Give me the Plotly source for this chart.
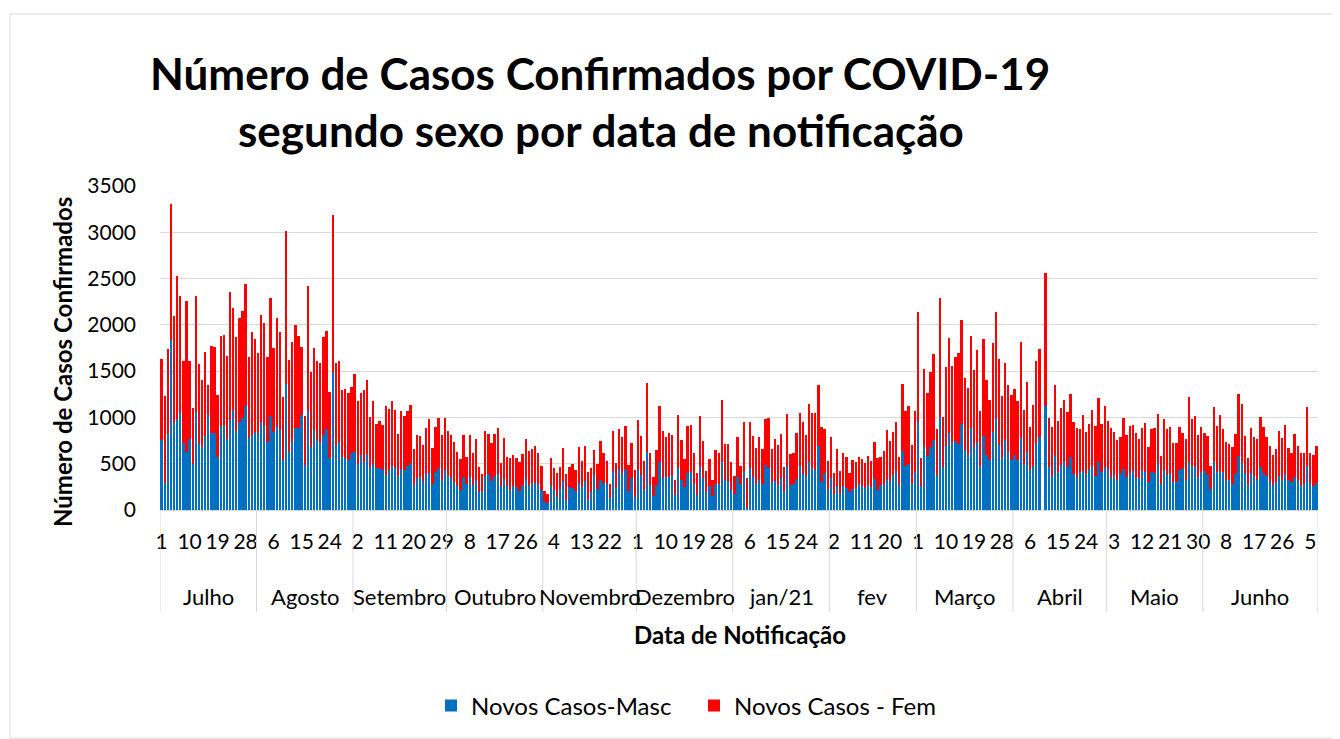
import plotly.graph_objects as go
import pandas as pd

# ---- Data (daily new cases by sex) ----
masc_jul20 = [761,292,822,1835,941,981,1053,721,631,771,497,1063,714,681,800,1031,836,836,577,908,908,771,973,1078,851,952,995,1121,779,815,844]
fem_jul20 = [872,937,919,1474,1150,1542,1254,894,1626,844,610,1244,861,721,912,321,941,927,667,967,985,894,1377,1107,1020,1124,1150,1316,879,1110,1002]
masc_ago = [829,955,912,735,1020,844,908,865,541,1363,624,743,887,887,1027,490,1074,678,869,753,725,808,872,566,1492,696,732,573,562,541,613]
fem_ago = [862,1150,1110,923,1273,908,1165,1060,685,1647,998,1074,1114,995,729,530,1349,818,876,862,865,1063,1057,707,1698,890,879,725,743,728,721]
masc_set = [624,494,595,516,602,461,508,454,454,429,382,436,479,454,368,447,429,476,508,274,350,361,310,389,400,281,411,454,321,429]
fem_set = [840,688,674,778,804,548,674,476,512,490,743,653,703,624,454,627,591,598,628,382,465,439,393,498,588,393,490,541,494,566]
masc_out = [368,350,303,263,216,361,285,361,274,324,198,198,371,386,314,368,386,256,339,260,216,260,245,202,267,335,263,296,296,278,216]
fem_out = [483,461,429,361,332,454,292,454,346,447,271,191,487,436,414,458,497,252,443,310,347,335,318,317,335,436,371,367,396,338,260]
masc_nov = [87,72,270,216,137,231,317,108,245,238,209,292,252,310,112,198,382,224,321,288,281,126,418,238,443,397,440,205,350,141]
fem_nov = [122,101,296,235,260,238,354,281,224,263,220,389,274,382,303,260,267,277,429,328,253,159,440,274,433,389,472,285,375,295]
masc_dez = [433,379,216,627,270,155,274,516,342,353,361,368,159,458,328,245,400,411,278,166,469,342,195,256,151,281,281,516,321,299,216]
fem_dez = [544,418,314,746,350,198,375,609,509,433,472,447,169,573,429,310,508,508,342,234,544,404,227,292,173,364,332,674,396,418,307]
masc_jan = [173,353,281,411,22,454,353,281,324,281,483,454,306,317,274,350,198,472,274,281,332,472,389,364,516,454,436,689,299,404,227]
fem_jan = [198,440,198,541,320,501,451,390,469,375,498,541,354,451,429,472,267,570,335,335,497,577,563,451,627,599,613,663,602,476,307]
masc_fev = [342,173,260,184,263,238,195,224,242,278,256,234,270,245,332,220,274,267,335,314,382,425,267,634,472,494,281,407]
fem_fev = [451,231,396,241,357,332,205,317,281,295,296,274,318,289,400,339,303,375,530,429,458,523,310,729,595,631,422,667]
masc_mar = [948,263,678,588,685,757,379,1009,461,696,833,728,750,714,926,649,595,887,678,739,472,804,598,541,840,991,707,566,757,631,541]
fem_mar = [1190,299,840,674,811,930,493,1280,541,847,1020,833,908,980,1125,779,724,995,829,991,602,1045,801,652,963,1147,922,663,829,714,706]
masc_abr = [598,541,779,494,624,436,476,717,786,0,1121,469,371,598,411,490,523,469,577,389,361,415,425,389,447,479,368,516,411,469]
fem_abr = [714,641,1031,591,760,462,660,894,952,0,1439,526,523,754,548,610,667,591,681,559,526,461,602,451,483,603,544,699,515,652]
masc_mai = [447,353,379,321,400,447,361,400,425,342,342,425,407,303,407,404,505,285,433,375,386,306,306,429,451,328,523,472,461,361,415]
fem_mai = [519,530,465,440,393,548,454,508,498,487,429,462,530,382,469,486,537,299,551,497,508,419,422,465,382,436,699,516,556,447,483]
masc_jun = [418,379,224,516,411,415,415,324,324,281,393,580,505,404,270,400,368,328,469,404,364,310,270,299,371,321,389,328,299,357,
            321,260,278,476,288,256,296]
fem_jun = [415,418,255,602,497,609,461,415,386,404,425,671,641,400,296,483,425,440,540,497,426,379,328,361,483,461,530,339,317,465,
           368,360,338,638,328,342,400]

masc = (masc_jul20 + masc_ago + masc_set + masc_out + masc_nov + masc_dez +
        masc_jan + masc_fev + masc_mar + masc_abr + masc_mai + masc_jun)
fem = (fem_jul20 + fem_ago + fem_set + fem_out + fem_nov + fem_dez +
       fem_jan + fem_fev + fem_mar + fem_abr + fem_mai + fem_jun)

meses = ["Julho", "Agosto", "Setembro", "Outubro", "Novembro", "Dezembro",
         "jan/21", "fev", "Março", "Abril", "Maio", "Junho"]
dias_por_mes = [len(masc_jul20), len(masc_ago), len(masc_set), len(masc_out),
                len(masc_nov), len(masc_dez), len(masc_jan), len(masc_fev),
                len(masc_mar), len(masc_abr), len(masc_mai), len(masc_jun)]

datas = pd.date_range("2020-07-01", periods=len(masc), freq="D")
dias = [d.day for d in datas]
x = list(range(len(masc)))
tick_idx = list(range(0, len(masc), 9))

FONT = "Lato"

fig = go.Figure()
fig.add_trace(go.Bar(x=x, y=masc, name="Novos Casos-Masc",
                     marker=dict(color="#0070C0", line=dict(width=0))))
fig.add_trace(go.Bar(x=x, y=fem, name="Novos Casos - Fem",
                     marker=dict(color="#FF0000", line=dict(width=0))))

OFF = 8  # page body margin
W, H = 1340 - OFF, 739 - OFF
L, R, T, B = 160 - OFF, 22, 186 - OFF, 229
pw = W - L - R
ph = H - T - B

def px_x(p):
    return (p - OFF - L) / pw

def px_y(p):
    return (H - B - (p - OFF)) / ph

annotations = []
shapes = []
start = 0
for m, n in zip(meses, dias_por_mes):
    annotations.append(dict(x=start + n / 2 - 0.5, xref="x", y=px_y(596), yref="paper",
                            text=m, showarrow=False, xanchor="center", yanchor="middle",
                            font=dict(family=FONT, size=22, color="#000000")))
    shapes.append(dict(type="line", xref="x", yref="paper", x0=start - 0.5, x1=start - 0.5,
                       y0=0, y1=px_y(612), line=dict(color="#D9D9D9", width=1)))
    start += n
shapes.append(dict(type="line", xref="x", yref="paper", x0=start - 0.5, x1=start - 0.5,
                   y0=0, y1=px_y(612), line=dict(color="#D9D9D9", width=1)))

# outer chart border
shapes.append(dict(type="rect", xref="paper", yref="paper",
                   x0=px_x(10), x1=px_x(1338), y0=px_y(738), y1=px_y(14),
                   line=dict(color="#D9D9D9", width=1), fillcolor="rgba(0,0,0,0)", layer="below"))

annotations.append(dict(x=px_x(600), y=px_y(73), xref="paper", yref="paper",
                        text="<b>Número de Casos Confirmados por COVID-19</b>", showarrow=False,
                        xanchor="center", yanchor="middle",
                        font=dict(family=FONT, size=44, color="#000000")))
annotations.append(dict(x=px_x(601), y=px_y(130), xref="paper", yref="paper",
                        text="<b>segundo sexo por data de notificação</b>", showarrow=False,
                        xanchor="center", yanchor="middle",
                        font=dict(family=FONT, size=44, color="#000000")))
annotations.append(dict(x=px_x(62), y=px_y(362), xref="paper", yref="paper",
                        text="<b>Número de Casos Confirmados</b>", showarrow=False, textangle=-90,
                        xanchor="center", yanchor="middle",
                        font=dict(family=FONT, size=24, color="#000000")))
annotations.append(dict(x=px_x(740), y=px_y(634), xref="paper", yref="paper",
                        text="<b>Data de Notificação</b>", showarrow=False,
                        xanchor="center", yanchor="middle",
                        font=dict(family=FONT, size=24, color="#000000")))

fig.update_layout(
    width=W, height=H,
    margin=dict(l=L, r=R, t=T, b=B, autoexpand=False),
    paper_bgcolor="white", plot_bgcolor="white",
    barmode="stack", bargap=0.25,
    font=dict(family=FONT, size=21, color="#000000"),
    showlegend=True,
    legend=dict(orientation="h", x=px_x(694), xanchor="center", y=px_y(706), yanchor="middle",
                font=dict(family=FONT, size=24), traceorder="normal", itemwidth=30,
                entrywidth=218, entrywidthmode="pixels"),
    annotations=annotations,
    shapes=shapes,
    xaxis=dict(range=[-0.5, len(masc) - 0.5], tickmode="array", tickvals=tick_idx,
               ticktext=[str(dias[i]) for i in tick_idx], tickangle=0,
               showgrid=False, showline=True, linecolor="#D9D9D9", ticks="",
               ticklabelstandoff=13, tickfont=dict(family=FONT, size=21), zeroline=False),
    yaxis=dict(range=[0, 3500], dtick=500, showgrid=True, gridcolor="#D9D9D9", gridwidth=1,
               zeroline=False, showline=False, ticks="", ticklabelstandoff=23,
               tickfont=dict(family=FONT, size=21)),
)

fig.write_html("out.html")
